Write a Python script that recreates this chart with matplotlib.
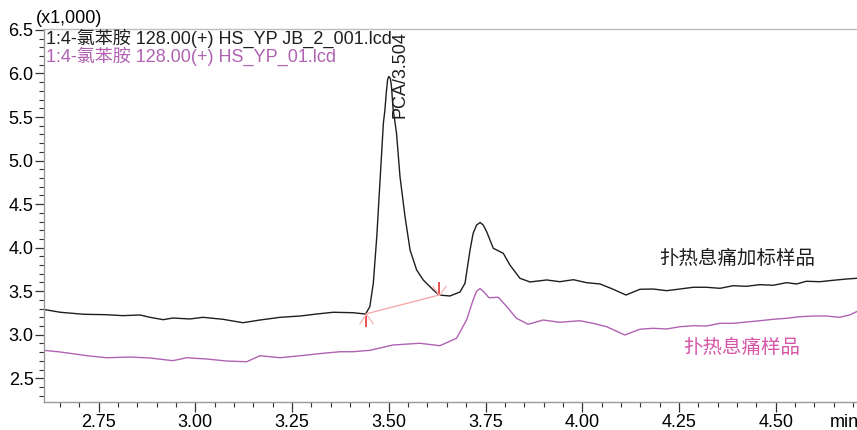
import matplotlib
matplotlib.use('Agg')
import matplotlib.pyplot as plt
from matplotlib.ticker import MultipleLocator, FormatStrFormatter
from matplotlib.path import Path

plt.rcParams['font.family'] = ['Liberation Sans', 'Noto Sans CJK SC', 'DejaVu Sans']

# spiked sample trace (x1,000)
t_spiked = [2.609, 2.651, 2.711, 2.771, 2.813, 2.857, 2.883, 2.917, 2.942, 2.986,
            3.020, 3.072, 3.123, 3.167, 3.219, 3.271, 3.314, 3.356, 3.407, 3.440,
            3.451, 3.460, 3.469, 3.477, 3.486, 3.490, 3.494, 3.497, 3.500, 3.504,
            3.507, 3.511, 3.520, 3.529, 3.542, 3.555, 3.572, 3.589, 3.615, 3.630,
            3.658, 3.684, 3.697, 3.710, 3.718, 3.727, 3.736, 3.744, 3.753, 3.770,
            3.796, 3.813, 3.839, 3.865, 3.908, 3.942, 3.977, 4.011, 4.046, 4.080,
            4.113, 4.149, 4.183, 4.218, 4.252, 4.287, 4.321, 4.356, 4.390, 4.424,
            4.459, 4.493, 4.528, 4.554, 4.579, 4.614, 4.648, 4.683, 4.709]
i_spiked = [3.290, 3.258, 3.235, 3.230, 3.219, 3.227, 3.200, 3.173, 3.192, 3.181,
            3.200, 3.177, 3.138, 3.169, 3.200, 3.215, 3.238, 3.258, 3.253, 3.238,
            3.322, 3.591, 4.126, 4.739, 5.428, 5.581, 5.800, 5.930, 5.966, 5.945,
            5.850, 5.600, 5.314, 4.815, 4.356, 3.973, 3.744, 3.629, 3.514, 3.456,
            3.445, 3.491, 3.591, 3.973, 4.165, 4.260, 4.289, 4.260, 4.183, 3.993,
            3.935, 3.801, 3.648, 3.606, 3.629, 3.609, 3.632, 3.598, 3.583, 3.522,
            3.456, 3.522, 3.525, 3.506, 3.525, 3.545, 3.545, 3.533, 3.563, 3.556,
            3.575, 3.568, 3.598, 3.583, 3.614, 3.609, 3.625, 3.640, 3.648]

# sample trace
t_sample = [2.609, 2.651, 2.720, 2.771, 2.831, 2.883, 2.942, 2.978, 3.030, 3.081,
            3.133, 3.167, 3.219, 3.271, 3.330, 3.374, 3.407, 3.451, 3.511, 3.580,
            3.632, 3.675, 3.701, 3.718, 3.727, 3.736, 3.746, 3.759, 3.783, 3.805,
            3.830, 3.860, 3.899, 3.942, 3.994, 4.028, 4.063, 4.110, 4.149, 4.183,
            4.218, 4.252, 4.287, 4.321, 4.356, 4.390, 4.424, 4.459, 4.493, 4.528,
            4.562, 4.597, 4.631, 4.665, 4.691, 4.709]
i_sample = [2.821, 2.802, 2.759, 2.736, 2.744, 2.733, 2.702, 2.736, 2.721, 2.698,
            2.690, 2.759, 2.736, 2.759, 2.787, 2.805, 2.805, 2.821, 2.882, 2.902,
            2.874, 2.959, 3.169, 3.399, 3.500, 3.531, 3.490, 3.425, 3.430, 3.322,
            3.189, 3.120, 3.169, 3.143, 3.161, 3.131, 3.092, 2.997, 3.063, 3.074,
            3.066, 3.092, 3.104, 3.100, 3.131, 3.131, 3.146, 3.161, 3.177, 3.189,
            3.207, 3.215, 3.215, 3.200, 3.227, 3.265]

# integration start / end of PCA peak
peak_start = (3.440, 3.238)
peak_end = (3.630, 3.456)
peak_label = 'PCA/3.504'

trace1_name = '1:4-氯苯胺 128.00(+) HS_YP JB_2_001.lcd'
trace2_name = '1:4-氯苯胺 128.00(+) HS_YP_01.lcd'

black = '#1e1e1e'
purple = '#b162b3'
pink = '#d656a8'

fig = plt.figure(figsize=(8.57, 4.30), dpi=100)
ax = fig.add_axes([44 / 857, 1 - 401.7 / 430, 1 - 44 / 857, (401.7 - 29) / 430])

ax.plot(t_sample, i_sample, color=purple, lw=1.0)
ax.plot(t_spiked, i_spiked, color=black, lw=1.0)

# baseline + integration marks
ax.plot([peak_start[0], peak_end[0]], [peak_start[1], peak_end[1]], color='#f6a3a3', lw=0.9)
down_tick = Path([(0, 0), (0, -1)])
up_tick = Path([(0, 0), (0, 1)])
head_up = Path([(-0.5, -0.7), (0, 0), (0.5, -0.7)])
head_down = Path([(-0.5, 0.7), (0, 0), (0.5, 0.7)])
ax.plot(*peak_start, marker=down_tick, ms=19, mec='#e02020', mew=1.1, ls='none')
ax.plot(*peak_start, marker=head_up, ms=14, mec='#f8b4b4', mfc='none', mew=0.9, ls='none')
ax.plot(*peak_end, marker=up_tick, ms=19, mec='#e02020', mew=1.1, ls='none')
ax.plot(*peak_end, marker=head_down, ms=14, mec='#f8b4b4', mfc='none', mew=0.9, ls='none')

ax.text(3.529, 5.49, peak_label, rotation=90, ha='center', va='bottom',
        fontsize=13, color=black, clip_on=False)

ax.text(4.401, 3.881, '扑热息痛加标样品', fontsize=14, color=black, ha='center', va='center',
        family=['Noto Sans CJK SC', 'DejaVu Sans'])
ax.text(4.411, 2.848, '扑热息痛样品', fontsize=14, color=pink, ha='center', va='center',
        family=['Noto Sans CJK SC', 'DejaVu Sans'])

ax.set_xlim(2.609, 4.71)
ax.set_ylim(2.231, 6.511)

ax.xaxis.set_major_locator(MultipleLocator(0.25))
ax.xaxis.set_minor_locator(MultipleLocator(0.05))
ax.xaxis.set_major_formatter(FormatStrFormatter('%.2f'))
ax.yaxis.set_major_locator(MultipleLocator(0.5))
ax.yaxis.set_minor_locator(MultipleLocator(0.1))
ax.yaxis.set_major_formatter(FormatStrFormatter('%.1f'))

ax.tick_params(axis='x', which='major', length=7.5, width=0.9, labelsize=13, pad=1, color='#333333')
ax.tick_params(axis='x', which='minor', length=3.5, width=0.8, color='#333333')
ax.tick_params(axis='y', which='major', length=6.5, width=0.9, labelsize=13, pad=1, color='#333333')
ax.tick_params(axis='y', which='minor', length=3.5, width=0.8, color='#333333')

for side in ['left', 'bottom']:
    ax.spines[side].set_color('#9a9a9a')
    ax.spines[side].set_linewidth(1.0)
ax.spines['top'].set_color('#bdbdbd')
ax.spines['top'].set_linewidth(1.0)
ax.spines['right'].set_visible(False)

ax.text(0.985, -0.033, 'min', transform=ax.transAxes, ha='center', va='top', fontsize=13)
fig.text(69.5 / 857, 1 - 18.5 / 430, '(x1,000)', ha='center', va='center', fontsize=13)
fig.text(46.5 / 857, 1 - 38 / 430, trace1_name, ha='left', va='center', fontsize=13, color=black)
fig.text(46.5 / 857, 1 - 56 / 430, trace2_name, ha='left', va='center', fontsize=13, color=purple)

fig.savefig('out.png', dpi=100)
